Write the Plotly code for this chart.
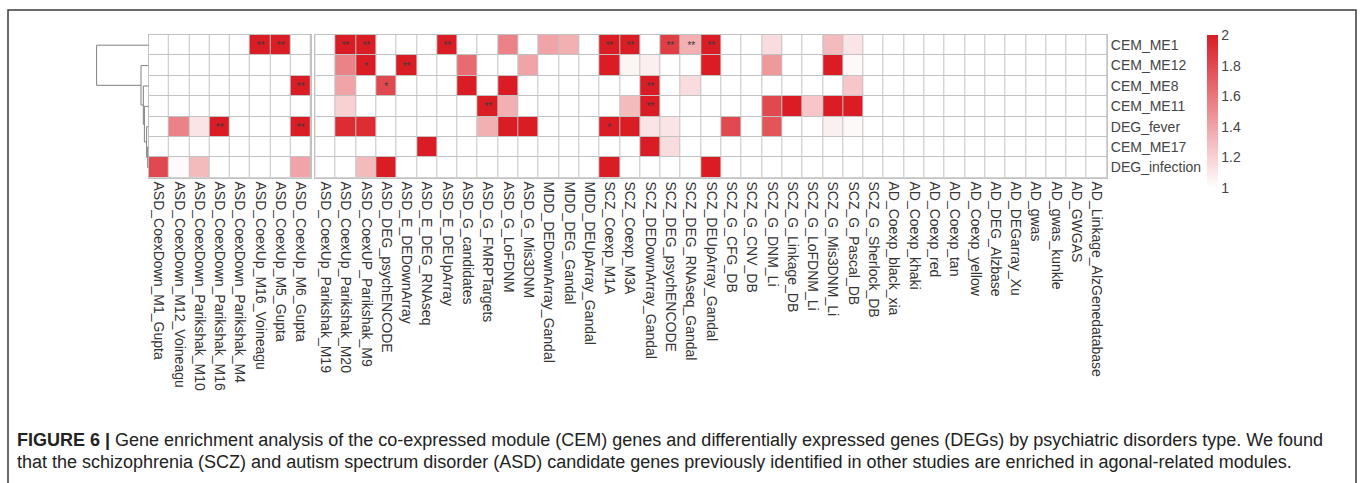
import plotly.graph_objects as go

W, H = 1360, 483

# ---- categories -------------------------------------------------------------
rows = ["CEM_ME1", "CEM_ME12", "CEM_ME8", "CEM_ME11", "DEG_fever", "CEM_ME17", "DEG_infection"]

asd_coex = ["ASD_CoexDown_M1_Gupta", "ASD_CoexDown_M12_Voineagu", "ASD_CoexDown_Parikshak_M10",
            "ASD_CoexDown_Parikshak_M16", "ASD_CoexDown_Parikshak_M4", "ASD_CoexUp_M16_Voineagu",
            "ASD_CoexUp_M5_Gupta", "ASD_CoexUp_M6_Gupta"]
asd_other = ["ASD_CoexUp_Parikshak_M19", "ASD_CoexUp_Parikshak_M20", "ASD_CoexUP_Parikshak_M9",
             "ASD_DEG_psychENCODE", "ASD_E_DEDownArray", "ASD_E_DEG_RNAseq", "ASD_E_DEUpArray",
             "ASD_G_candidates", "ASD_G_FMRPTargets", "ASD_G_LoFDNM", "ASD_G_Mis3DNM"]
mdd = ["MDD_DEDownArray_Gandal", "MDD_DEG_Gandal", "MDD_DEUpArray_Gandal"]
scz = ["SCZ_Coexp_M1A", "SCZ_Coexp_M3A", "SCZ_DEDownArray_Gandal", "SCZ_DEG_psychENCODE",
       "SCZ_DEG_RNAseq_Gandal", "SCZ_DEUpArray_Gandal", "SCZ_G_CFG_DB", "SCZ_G_CNV_DB",
       "SCZ_G_DNM_Li", "SCZ_G_Linkage_DB", "SCZ_G_LoFDNM_Li", "SCZ_G_Mis3DNM_Li",
       "SCZ_G_Pascal_DB", "SCZ_G_Sherlock_DB"]
ad = ["AD_Coexp_black_xia", "AD_Coexp_khaki", "AD_Coexp_red", "AD_Coexp_tan", "AD_Coexp_yellow",
      "AD_DEG_Alzbase", "AD_DEGarray_Xu", "AD_gwas", "AD_gwas_kunkle", "AD_GWGAS",
      "AD_Linkage_AlzGenedatabase"]

cols_left = asd_coex
cols_right = asd_other + mdd + scz + ad
columns = cols_left + cols_right

# ---- enrichment scores (1 = not enriched, 2 = capped maximum) -----------------
# order within each row: asd_coex | asd_other | mdd | scz | ad
ME1 = ([1, 1, 1, 1, 1, 2, 2, 1]
       + [1, 2, 2, 1, 1, 1, 2, 1, 1, 1.55, 1]
       + [1.4, 1.35, 1]
       + [2, 2, 1, 1.85, 1.35, 2, 1, 1, 1.15, 1, 1, 1.3, 1.12, 1]
       + [1] * 11)
ME12 = ([1, 1, 1, 1, 1, 1, 1, 1]
        + [1, 1.55, 2, 1, 2, 1, 1, 1.65, 1, 1, 1.4]
        + [1, 1, 1]
        + [2, 1.05, 1.07, 1, 1, 2, 1, 1, 1.45, 1, 1, 2, 1.03, 1]
        + [1] * 11)
ME8 = ([1, 1, 1, 1, 1, 1, 1, 2]
       + [1, 1.4, 1, 1.8, 1, 1, 1, 2, 1, 2, 1]
       + [1, 1, 1]
       + [1, 1, 2, 1, 1.15, 1, 1, 1, 1, 1, 1, 1, 1.25, 1]
       + [1] * 11)
ME11 = ([1, 1, 1, 1, 1, 1, 1, 1]
        + [1, 1.2, 1, 1, 1, 1, 1, 1, 2, 1.35, 1]
        + [1, 1, 1]
        + [1, 1.3, 2, 1, 1, 1, 1, 1, 1.8, 2, 1.25, 2, 2, 1]
        + [1] * 11)
FEVER = ([1, 1.55, 1.12, 2, 1, 1, 1, 2]
         + [1, 1.93, 1.93, 1, 1, 1, 1, 1, 1.35, 2, 2]
         + [1, 1, 1]
         + [2, 2, 1.12, 1.12, 1, 1, 1.8, 1, 1.75, 1, 1, 1.07, 1.03, 1]
         + [1] * 11)
ME17 = ([1, 1, 1, 1, 1, 1, 1, 1]
        + [1, 1, 1, 1, 1, 2, 1, 1, 1, 1, 1]
        + [1, 1, 1]
        + [1, 1, 2, 1.15, 1, 1, 1, 1, 1, 1, 1, 1, 1, 1]
        + [1] * 11)
INFECTION = ([1.8, 1.02, 1.3, 1, 1, 1, 1, 1.4]
             + [1, 1, 1.3, 2, 1, 1, 1, 1, 1, 1, 1]
             + [1, 1, 1]
             + [2, 1, 1, 1, 1, 2, 1, 1, 1, 1, 1, 1, 1, 1]
             + [1] * 11)

scores = [ME1, ME12, ME8, ME11, FEVER, ME17, INFECTION]

# significance marks
sig_ME1 = {"ASD_CoexUp_M16_Voineagu": "**", "ASD_CoexUp_M5_Gupta": "**",
           "ASD_CoexUp_Parikshak_M20": "**", "ASD_CoexUP_Parikshak_M9": "**",
           "ASD_E_DEUpArray": "**", "SCZ_Coexp_M1A": "**", "SCZ_Coexp_M3A": "**",
           "SCZ_DEG_psychENCODE": "**", "SCZ_DEG_RNAseq_Gandal": "**",
           "SCZ_DEUpArray_Gandal": "**"}
sig_ME12 = {"ASD_CoexUP_Parikshak_M9": "*", "ASD_E_DEDownArray": "**"}
sig_ME8 = {"ASD_CoexUp_M6_Gupta": "**", "ASD_DEG_psychENCODE": "*", "SCZ_DEDownArray_Gandal": "**"}
sig_ME11 = {"ASD_G_FMRPTargets": "**", "SCZ_DEDownArray_Gandal": "**"}
sig_FEVER = {"ASD_CoexDown_Parikshak_M16": "**", "ASD_CoexUp_M6_Gupta": "**", "SCZ_Coexp_M1A": "*"}
sig_ME17 = {}
sig_INFECTION = {}
sig_marks = [sig_ME1, sig_ME12, sig_ME8, sig_ME11, sig_FEVER, sig_ME17, sig_INFECTION]

# row clustering: (child, child, height); integers refer to earlier merges
row_merges = [
    ("CEM_ME17", "DEG_infection", 0.02),
    ("DEG_fever", 0, 0.04),
    ("CEM_ME11", 1, 0.083),
    ("CEM_ME8", 2, 0.103),
    ("CEM_ME12", 3, 0.148),
    ("CEM_ME1", 4, 1.0),
]

colorbar_ticks = [1, 1.2, 1.4, 1.6, 1.8, 2]

# ---- styling ---------------------------------------------------------------
RED = "rgb(218,28,36)"
GRID = "#c2c2c2"
FONT = "Liberation Sans, Arial, sans-serif"
scale = [[0, "#ffffff"], [1, RED]]


def px_x(v):
    return v / W


def px_y(v):
    return 1 - v / H


grid_top, grid_bottom = 35, 177.7
y_dom = [px_y(grid_bottom), px_y(grid_top)]
x_left_dom = [px_x(148.7), px_x(311.0)]
x_right_dom = [px_x(315.3), px_x(1107.0)]
x_tree_dom = [px_x(94.0), px_x(148.7)]


def block(cols):
    idx = [columns.index(c) for c in cols]
    z = [[r[i] for i in idx] for r in scores]
    t = [[s.get(c, "") for c in cols] for s in sig_marks]
    return z, t


fig = go.Figure()

z_l, t_l = block(cols_left)
z_r, t_r = block(cols_right)
row_idx = list(range(len(rows)))

common = dict(zmin=1, zmax=2, colorscale=scale, xgap=1, ygap=1, hoverinfo="skip",
              texttemplate="%{text}", textfont=dict(size=10, color="#3a3a3a", family=FONT))

fig.add_trace(go.Heatmap(z=z_l, x=cols_left, y=row_idx, text=t_l, showscale=False,
                         xaxis="x", yaxis="y", **common))
fig.add_trace(go.Heatmap(
    z=z_r, x=cols_right, y=row_idx, text=t_r, xaxis="x2", yaxis="y2", showscale=True,
    colorbar=dict(x=px_x(1207), xanchor="left", xpad=0, y=px_y(35), yanchor="top", ypad=0,
                  len=153, lenmode="pixels", thickness=11, thicknessmode="pixels",
                  outlinewidth=0, tickvals=colorbar_ticks,
                  ticktext=[f"{v:g}" for v in colorbar_ticks], ticks="",
                  tickfont=dict(size=14, color="#444444", family=FONT)),
    **common))

# dendrogram from merge list
pos, height = {r: float(i) for i, r in enumerate(rows)}, {r: 0.0 for r in rows}
tx, ty = [], []
for k, (a, b, h) in enumerate(row_merges):
    ya, yb = pos[a], pos[b]
    tx += [height[a], h, h, height[b], None]
    ty += [ya, ya, yb, yb, None]
    pos[k] = (ya + yb) / 2
    height[k] = h
fig.add_trace(go.Scatter(x=tx, y=ty, mode="lines", xaxis="x3", yaxis="y3",
                         line=dict(color="#808080", width=1), hoverinfo="skip",
                         showlegend=False))

xcommon = dict(type="category", tickangle=90, ticks="", showgrid=False, zeroline=False,
               showline=True, mirror=True, linecolor=GRID, linewidth=1,
               tickfont=dict(size=14, color="#333333", family=FONT), fixedrange=True)
ycommon = dict(range=[6.5, -0.5], domain=y_dom, showgrid=False, zeroline=False,
               showline=True, mirror=True, linecolor=GRID, linewidth=1, ticks="",
               fixedrange=True)

fig.update_layout(
    width=W, height=H, margin=dict(l=0, r=0, t=0, b=0),
    paper_bgcolor="white", plot_bgcolor="white", showlegend=False,
    xaxis=dict(domain=x_left_dom, anchor="y", **xcommon),
    xaxis2=dict(domain=x_right_dom, anchor="y2", **xcommon),
    xaxis3=dict(domain=x_tree_dom, anchor="y3", range=[1.05, 0], visible=False, fixedrange=True),
    yaxis=dict(anchor="x", showticklabels=False, **ycommon),
    yaxis2=dict(anchor="x2", side="right", tickvals=row_idx, ticktext=rows,
                tickfont=dict(size=14, color="#444444", family=FONT), **ycommon),
    yaxis3=dict(anchor="x3", domain=y_dom, range=[6.5, -0.5], visible=False, fixedrange=True),
    font=dict(family=FONT),
)

# gray under-layer so the cell gaps read as grid lines
for xr in ["x", "x2"]:
    yr = "y" if xr == "x" else "y2"
    fig.add_shape(type="rect", xref=f"{xr} domain", yref=f"{yr} domain", x0=0, x1=1, y0=0, y1=1,
                  fillcolor=GRID, line_width=0, layer="below")

# figure frame
fig.add_shape(type="rect", xref="paper", yref="paper", x0=px_x(8), x1=px_x(1356),
              y0=-0.05, y1=px_y(10), line=dict(color="#3a3a3a", width=1.5), fillcolor="rgba(0,0,0,0)")

caption1 = ("<b>FIGURE 6 |</b> Gene enrichment analysis of the co-expressed module (CEM) genes and "
            "differentially expressed genes (DEGs) by psychiatric disorders type. We found")
caption2 = ("that the schizophrenia (SCZ) and autism spectrum disorder (ASD) candidate genes previously "
            "identified in other studies are enriched in agonal-related modules.")
for txt, yy in [(caption1, 440), (caption2, 462)]:
    fig.add_annotation(text=txt, xref="paper", yref="paper", x=px_x(15), y=px_y(yy),
                       xanchor="left", yanchor="middle", showarrow=False, align="left",
                       font=dict(size=18, color="#222222", family=FONT))

fig.write_html("out.html")
